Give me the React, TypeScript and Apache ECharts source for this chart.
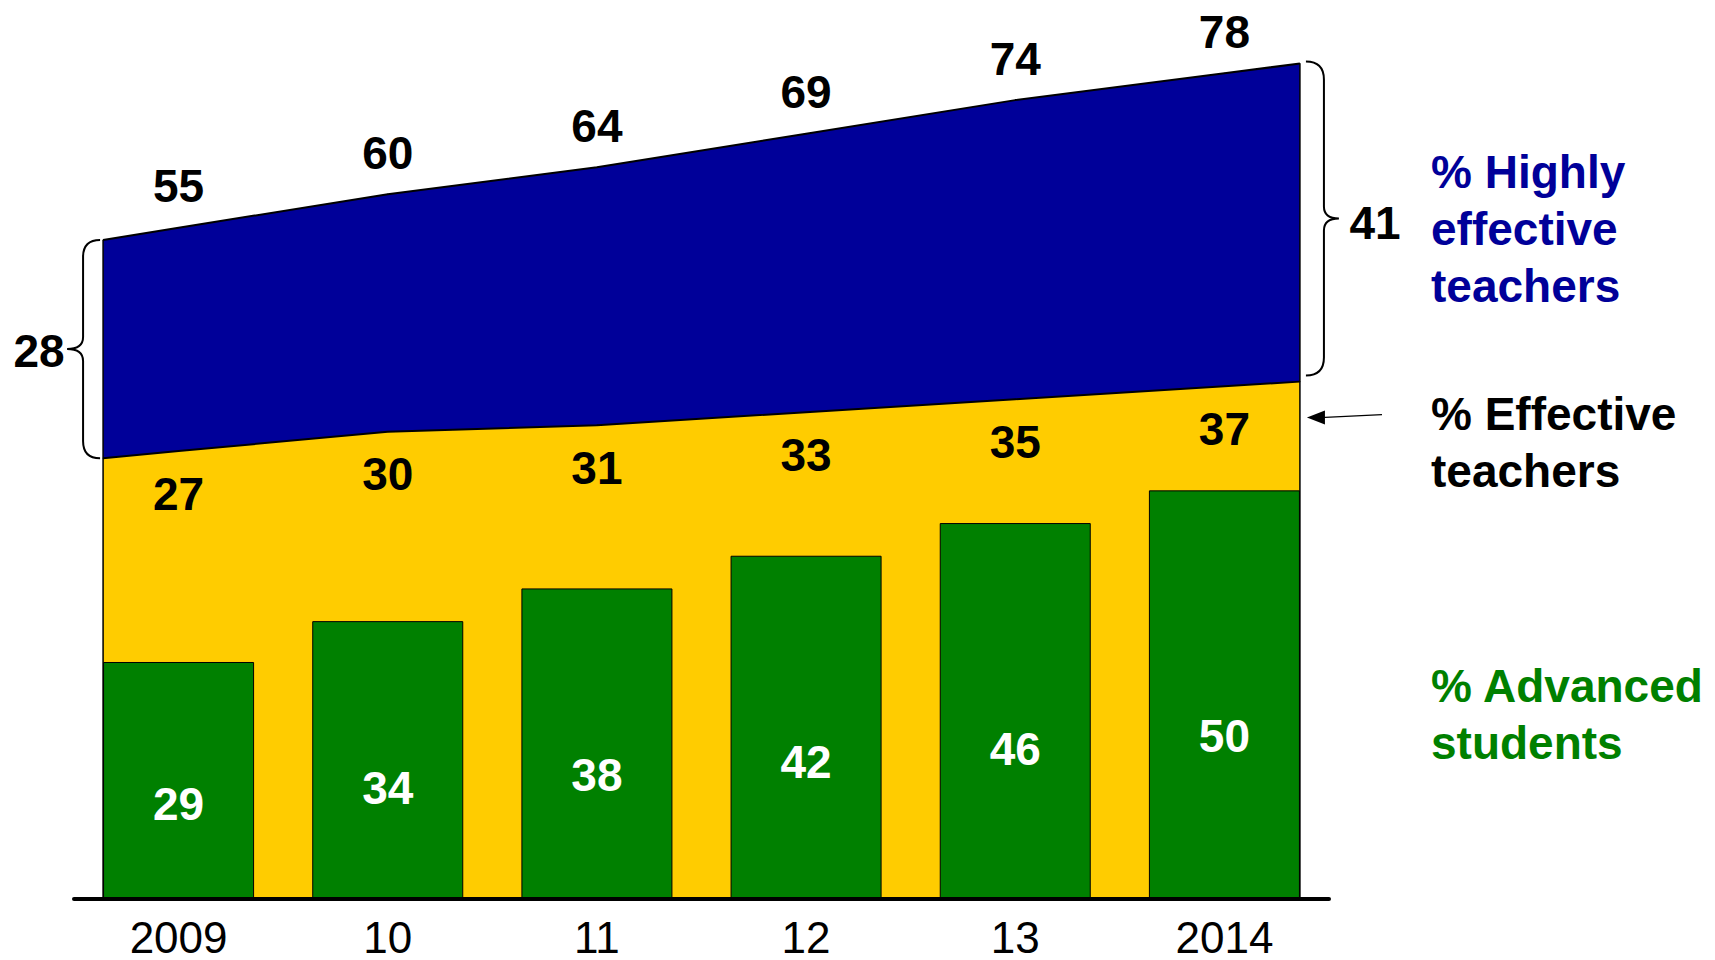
import React, { useEffect, useRef } from "react";
import * as echarts from "echarts";

// ---- data ----
const years = ["2009", "10", "11", "12", "13", "2014"];
const advancedStudents = [29, 34, 38, 42, 46, 50];
const effectiveTeachers = [27, 30, 31, 33, 35, 37];
const highlyEffectiveTeachers = [28, 30, 33, 36, 39, 41];
const effectiveOrHighly = [55, 60, 64, 69, 74, 78];

const seriesNames = {
  highly: "% Highly\neffective\nteachers",
  effective: "% Effective\nteachers",
  advanced: "% Advanced\nstudents",
};

// ---- styles ----
const FONT = "'Liberation Sans', Arial, Helvetica, sans-serif";
const BLUE = "#000099";
const YELLOW = "#FFCC00";
const GREEN = "#008000";
const BAR_RATIO = 0.722;
const HALF = BAR_RATIO / 2;

// area runs from the left edge of the first bar to the right edge of the last bar,
// continuing the first / last segment of the line
function withEdges(vals: number[]) {
  const n = vals.length;
  const left = vals[0] - (vals[1] - vals[0]) * HALF;
  const right = vals[n - 1] + (vals[n - 1] - vals[n - 2]) * HALF;
  const pts: any[] = vals.map((v, i) => ({ value: [i, v] }));
  return [
    { value: [-HALF, left], label: { show: false } },
    ...pts,
    { value: [n - 1 + HALF, right], label: { show: false } },
  ];
}

const numLabel = {
  fontSize: 46,
  fontWeight: "bold" as const,
  fontFamily: FONT,
  color: "#000",
};

export default function App() {
  const ref = useRef<HTMLDivElement>(null);

  useEffect(() => {
    if (!ref.current) return;
    const chart = echarts.init(ref.current, undefined, { renderer: "svg" });
    const blueData = withEdges(effectiveOrHighly);
    const yellowData = withEdges(effectiveTeachers);

    chart.setOption({
      animation: false,
      backgroundColor: "#fff",
      grid: { left: 74, right: 386, top: 0, bottom: 61, containLabel: false },
      xAxis: [
        {
          type: "category",
          data: years,
          boundaryGap: true,
          z: 10,
          axisLine: { show: true, lineStyle: { color: "#000", width: 4 } },
          axisTick: { show: false },
          axisLabel: {
            fontSize: 44,
            color: "#000",
            fontFamily: FONT,
            margin: 38,
            verticalAlign: "middle",
            lineHeight: 36,
          },
          splitLine: { show: false },
        },
        { type: "value", min: -0.5, max: 5.5, show: false },
      ],
      yAxis: [
        { type: "value", min: 0, max: 110, show: false },
        { type: "value", min: -42.1, max: 96.6, show: false },
        { type: "value", min: -44.9, max: 88.9, show: false },
      ],
      series: [
        {
          name: "Highly effective teachers",
          type: "line",
          xAxisIndex: 1,
          yAxisIndex: 2,
          data: blueData,
          symbol: "circle",
          symbolSize: 1,
          showSymbol: true,
          itemStyle: { color: "#000" },
          lineStyle: { color: "#000", width: 2 },
          areaStyle: { color: BLUE, opacity: 1, origin: "start" },
          label: {
            show: true,
            position: "top",
            distance: 41,
            verticalAlign: "middle",
            ...numLabel,
            formatter: (p: any) => String(p.value[1]),
          },
          z: 2,
        },
        {
          name: "Effective teachers",
          type: "line",
          xAxisIndex: 1,
          yAxisIndex: 1,
          data: yellowData,
          symbol: "circle",
          symbolSize: 1,
          showSymbol: true,
          itemStyle: { color: "#000" },
          lineStyle: { color: "#000", width: 2 },
          areaStyle: { color: YELLOW, opacity: 1, origin: "start" },
          label: {
            show: true,
            position: "bottom",
            distance: 42,
            verticalAlign: "middle",
            ...numLabel,
            formatter: (p: any) => String(p.value[1]),
          },
          z: 3,
        },
        {
          name: "Advanced students",
          type: "bar",
          xAxisIndex: 0,
          yAxisIndex: 0,
          data: advancedStudents,
          barWidth: `${BAR_RATIO * 100}%`,
          itemStyle: { color: GREEN, borderColor: "#000", borderWidth: 1 },
          label: {
            show: true,
            position: ["50%", "60%"],
            align: "center",
            verticalAlign: "middle",
            ...numLabel,
            color: "#fff",
          },
          z: 4,
        },
      ],
    });

    // annotations anchored on the library's own scales
    const px = (x: number, y: number, yi: number) =>
      chart.convertToPixel({ xAxisIndex: 1, yAxisIndex: yi } as any, [x, y]) as number[];
    const n = years.length;
    const bl = px(blueData[0].value[0], blueData[0].value[1], 2);
    const br = px(blueData[n + 1].value[0], blueData[n + 1].value[1], 2);
    const yl = px(yellowData[0].value[0], yellowData[0].value[1], 1);
    const yr = px(yellowData[n + 1].value[0], yellowData[n + 1].value[1], 1);
    const base = chart.convertToPixel({ yAxisIndex: 0 } as any, 0) as number;

    const braceL = (() => {
      const x = bl[0] - 3, t = bl[1], b = yl[1], m = (t + b) / 2, a = x - 17, tip = x - 33;
      return `M${x},${t} Q${a},${t} ${a},${t + 17} L${a},${m - 12} Q${a},${m} ${tip},${m} Q${a},${m} ${a},${m + 12} L${a},${b - 17} Q${a},${b} ${x},${b}`;
    })();
    const braceR = (() => {
      const x = br[0] + 6, t = br[1] - 2, b = yr[1] - 6, m = (t + b) / 2, a = x + 18, tip = x + 33;
      return `M${x},${t} Q${a},${t} ${a},${t + 18} L${a},${m - 12} Q${a},${m} ${tip},${m} Q${a},${m} ${a},${m + 12} L${a},${b - 18} Q${a},${b} ${x},${b}`;
    })();
    echarts.graphic.registerShape("braceLeft", echarts.graphic.extendPath(braceL, {}) as any);
    echarts.graphic.registerShape("braceRight", echarts.graphic.extendPath(braceR, {}) as any);

    const lMid = (bl[1] + yl[1]) / 2;
    const rMid = (br[1] + yr[1]) / 2;
    const arrowY = yr[1] + 36;

    chart.setOption({
      graphic: [
        { type: "line", z: 20, shape: { x1: bl[0], y1: bl[1], x2: bl[0], y2: base }, style: { stroke: "#000", lineWidth: 1.5 } },
        { type: "line", z: 20, shape: { x1: br[0], y1: br[1], x2: br[0], y2: base }, style: { stroke: "#000", lineWidth: 1.5 } },
        { type: "braceLeft", z: 20, x: 0, y: 0, style: { stroke: "#000", fill: "none", lineWidth: 2 } },
        { type: "braceRight", z: 20, x: 0, y: 0, style: { stroke: "#000", fill: "none", lineWidth: 2 } },
        {
          type: "text", z: 20, x: 39, y: lMid + 2,
          style: { text: String(highlyEffectiveTeachers[0]), font: `bold 46px ${FONT}`, fill: "#000", align: "center", verticalAlign: "middle" },
        },
        {
          type: "text", z: 20, x: 1375, y: rMid,
          style: { text: String(highlyEffectiveTeachers[n - 1]), font: `bold 46px ${FONT}`, fill: "#000", align: "center", verticalAlign: "middle" },
        },
        {
          type: "text", z: 20, x: 1431, y: 229,
          style: { text: seriesNames.highly, font: `bold 46px ${FONT}`, fill: BLUE, align: "left", verticalAlign: "middle", lineHeight: 57 },
        },
        {
          type: "text", z: 20, x: 1431, y: 442,
          style: { text: seriesNames.effective, font: `bold 46px ${FONT}`, fill: "#000", align: "left", verticalAlign: "middle", lineHeight: 57 },
        },
        {
          type: "text", z: 20, x: 1431, y: 714,
          style: { text: seriesNames.advanced, font: `bold 46px ${FONT}`, fill: GREEN, align: "left", verticalAlign: "middle", lineHeight: 57 },
        },
        { type: "line", z: 20, shape: { x1: br[0] + 20, y1: arrowY, x2: 1382, y2: arrowY - 3 }, style: { stroke: "#000", lineWidth: 1.5 } },
        {
          type: "polygon", z: 20,
          shape: { points: [[br[0] + 7, arrowY], [br[0] + 25, arrowY - 7], [br[0] + 25, arrowY + 7]] },
          style: { fill: "#000" },
        },
      ],
    });

    return () => chart.dispose();
  }, []);

  return (
    <div
      ref={ref}
      style={{ position: "absolute", left: 0, top: 0, width: 1715, height: 960, background: "#fff" }}
    />
  );
}
